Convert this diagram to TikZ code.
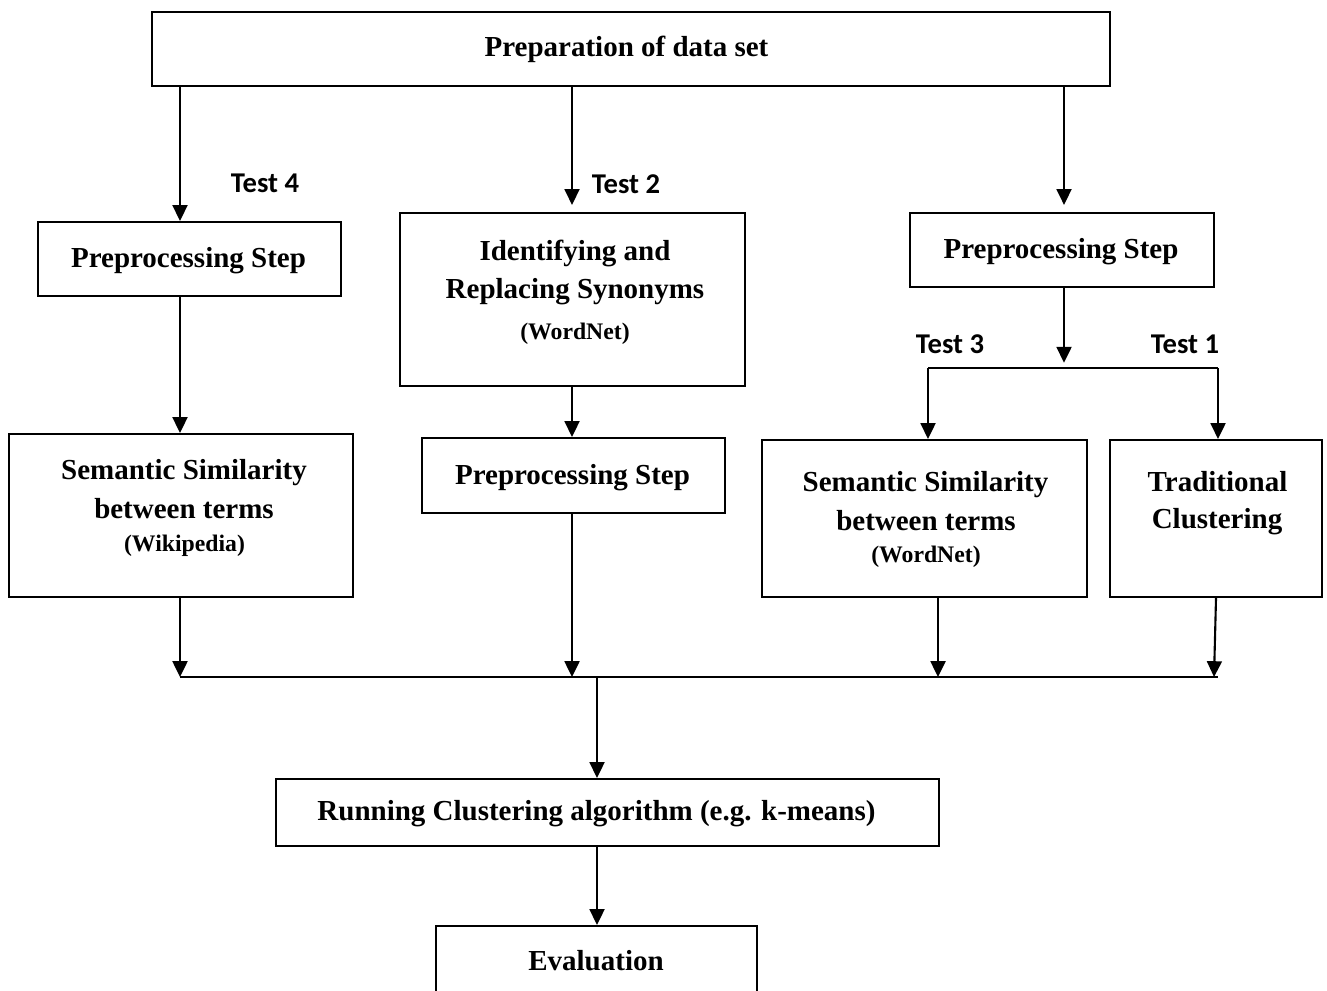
\documentclass[tikz,border=0pt]{standalone}
\usepackage{fontspec}
\setmainfont{Liberation Serif}
\newfontfamily\testfont{Carlito}
\usetikzlibrary{arrows.meta}
\begin{document}
\begin{tikzpicture}[x=0.02cm,y=-0.02cm,
  box/.style={draw,line width=1.2pt,inner sep=0pt},
  big/.style={font=\fontsize{16.5}{20}\selectfont\bfseries,anchor=base,inner sep=0pt},
  small/.style={font=\fontsize{13.5}{16}\selectfont\bfseries,anchor=base,inner sep=0pt},
  testlbl/.style={font=\testfont\fontsize{16.3}{19}\selectfont\bfseries,anchor=base,inner sep=0pt},
  arr/.style={line width=1.2pt,-{Triangle[length=9pt,width=8.5pt]}},
  ln/.style={line width=1.2pt}]
\useasboundingbox (0,0) rectangle (1327,990);
\clip (0,0) rectangle (1327,990);

% boxes
\node[box,minimum width=19.16cm,minimum height=1.48cm] (top) at (631,49) {};
\node[box,minimum width=6.06cm,minimum height=1.48cm] (prepL) at (189.5,259) {};
\node[box,minimum width=6.9cm,minimum height=3.46cm] (ident) at (572.5,299.5) {};
\node[box,minimum width=6.08cm,minimum height=1.48cm] (prepR) at (1062,250) {};
\node[box,minimum width=6.88cm,minimum height=3.26cm] (semL) at (181,515.5) {};
\node[box,minimum width=6.06cm,minimum height=1.5cm] (prepM) at (573.5,475.5) {};
\node[box,minimum width=6.5cm,minimum height=3.14cm] (semR) at (924.5,518.5) {};
\node[box,minimum width=4.24cm,minimum height=3.14cm] (trad) at (1216,518.5) {};
\node[box,minimum width=13.26cm,minimum height=1.34cm] (run) at (607.5,812.5) {};
\node[box,minimum width=6.42cm,minimum height=1.68cm] (eval) at (596.5,968) {};

% texts
\node[big] (ttop) at (626.5,57) {Preparation of data set};
\node[big] (tprepL) at (188.5,267) {Preprocessing Step};
\node[big] (tident1) at (575,260) {Identifying and};
\node[big] (tident2) at (575,298) {Replacing Synonyms};
\node[small] (tident3) at (575,339) {(WordNet)};
\node[big] (tprepR) at (1061,258) {Preprocessing Step};
\node[big] (tsemL1) at (184,479) {Semantic Similarity};
\node[big] (tsemL2) at (184,518) {between terms};
\node[small] (tsemL3) at (184.5,551) {(Wikipedia)};
\node[big] (tprepM) at (572.5,484) {Preprocessing Step};
\node[big] (tsemR1) at (925.5,491) {Semantic Similarity};
\node[big] (tsemR2) at (926,530) {between terms};
\node[small] (tsemR3) at (926,562) {(WordNet)};
\node[big] (ttrad1) at (1217.5,491) {Traditional};
\node[big] (ttrad2) at (1217,528) {Clustering};
\node[big] (trun) at (596.5,820) {Running Clustering algorithm (e.g. k-means)};
\node[big] (teval) at (596,970) {Evaluation};

\node[testlbl] (test4) at (265,192) {Test 4};
\node[testlbl] (test2) at (626,193) {Test 2};
\node[testlbl] (test3) at (950,353) {Test 3};
\node[testlbl] (test1) at (1185,353) {Test 1};

% column coordinates
\coordinate (cL) at (180,0);
\coordinate (cM) at (572,0);
\coordinate (cR) at (1064,0);
\coordinate (c3) at (938,0);
\coordinate (jR) at (1064,368);
\coordinate (j3) at (928,368);
\coordinate (j1) at (1218,368);
\coordinate (bL) at (180,677);
\coordinate (bR) at (1218,677);
\coordinate (bC) at (597,677);
\coordinate (bT) at (1214,677);

% connectors
\draw[arr] (top.south -| cL) -- (prepL.north -| cL);
\draw[arr,shorten >=4pt] (top.south -| cM) -- (ident.north -| cM);
\draw[arr,shorten >=4pt] (top.south -| cR) -- (prepR.north -| cR);
\draw[arr] (prepL.south -| cL) -- (semL.north -| cL);
\draw[arr] (ident.south -| cM) -- (prepM.north -| cM);
\draw[arr,shorten >=3pt] (prepR.south -| cR) -- (jR);
\draw[ln] (j3) -- (j1);
\draw[arr] (j3) -- (semR.north -| j3);
\draw[arr] (j1) -- (trad.north -| j1);
\draw[ln] (bL) -- (bR);
\draw[arr] (semL.south -| cL) -- (bL);
\draw[arr] (prepM.south -| cM) -- (cM |- bL);
\draw[arr] (semR.south -| c3) -- (c3 |- bL);
\draw[arr] (trad.south) -- (bT);
\draw[arr] (bC) -- (run.north -| bC);
\draw[arr] (run.south -| bC) -- (eval.north -| bC);
\end{tikzpicture}
\end{document}
